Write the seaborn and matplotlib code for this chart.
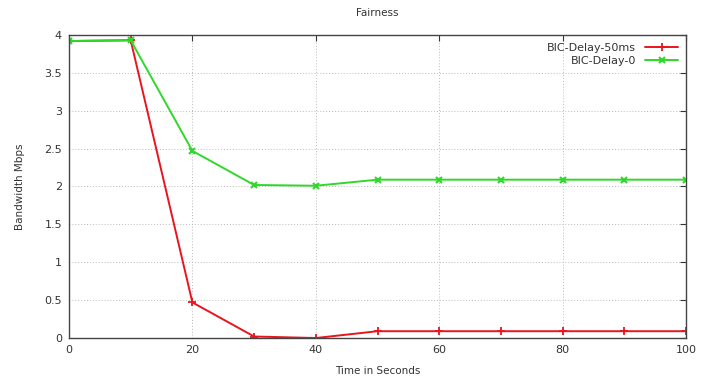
import matplotlib
matplotlib.use("Agg")
import matplotlib.pyplot as plt
import seaborn as sns
import pandas as pd

time_s = [0, 10, 20, 30, 40, 50, 60, 70, 80, 90, 100]
bic_delay_50ms = [3.92, 3.93, 0.47, 0.02, 0.0, 0.09, 0.09, 0.09, 0.09, 0.09, 0.09]
bic_delay_0 = [3.92, 3.93, 2.47, 2.02, 2.01, 2.09, 2.09, 2.09, 2.09, 2.09, 2.09]
xticks = [0, 20, 40, 60, 80, 100]
yticks = [0, 0.5, 1, 1.5, 2, 2.5, 3, 3.5, 4]

sns.set_theme(style="white")
plt.rcParams['font.family'] = ['DejaVu Sans']

df = pd.DataFrame({"t": time_s, "BIC-Delay-50ms": bic_delay_50ms, "BIC-Delay-0": bic_delay_0})

fig = plt.figure(figsize=(7.11, 3.76), dpi=100)
ax = fig.add_axes([0.097, 0.101, 0.868, 0.806])

red = "#e8141e"
green = "#2fd82a"
sns.lineplot(data=df, x="t", y="BIC-Delay-50ms", ax=ax, color=red, marker="+",
             markersize=6, markeredgewidth=1.3, markeredgecolor=red, linewidth=1.4,
             label="BIC-Delay-50ms")
sns.lineplot(data=df, x="t", y="BIC-Delay-0", ax=ax, color=green, marker="x",
             markersize=5, markeredgewidth=1.5, markeredgecolor=green, linewidth=1.4,
             label="BIC-Delay-0")

ax.set_xlim(0, 100)
ax.set_ylim(0, 4)
ax.set_xticks(xticks)
ax.set_yticks(yticks)
ax.set_yticklabels(["0", "0.5", "1", "1.5", "2", "2.5", "3", "3.5", "4"])
ax.grid(True, color="#bbbbbb", linestyle=(0, (1, 2)), linewidth=0.7)
ax.tick_params(direction="in", top=True, right=True, labelsize=8, colors="#333333",
               length=4, width=0.8, pad=5)
for s in ax.spines.values():
    s.set_color("#444444")
    s.set_linewidth(1.0)

ax.set_title("Fairness", fontsize=7.5, color="#333333", pad=14)
ax.set_xlabel("Time in Seconds", fontsize=7.5, color="#333333", labelpad=8)
ax.set_ylabel("Bandwidth Mbps", fontsize=7.5, color="#333333", labelpad=14)

leg = ax.legend(loc="upper right", frameon=False, fontsize=8, markerfirst=False,
                handlelength=3, borderaxespad=0.3, labelspacing=0.3)
for t in leg.get_texts():
    t.set_color("#333333")

fig.savefig("out.png", dpi=100)
